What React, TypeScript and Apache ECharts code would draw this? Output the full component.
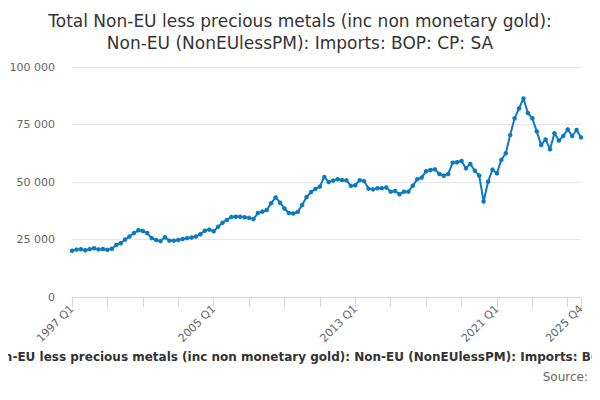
import React, { useEffect, useRef } from 'react';
import * as echarts from 'echarts';

const FIRST_YEAR = 1997;
const LAST_YEAR = 2025;

// quarterly imports, £ million, 1997 Q1 .. 2025 Q4
const imports = [
  20100, 20600, 20800, 20300, 20800, 21200, 20700, 20900,
  20500, 21000, 22600, 23400, 25000, 26300, 27800, 29000,
  28700, 27800, 25600, 24800, 24300, 26000, 24500, 24500,
  24800, 25200, 25600, 25900, 26300, 27300, 28800, 29300,
  28600, 30500, 32300, 33500, 34800, 34900, 34900, 34700,
  34400, 33900, 36500, 37100, 37800, 40800, 43300, 41000,
  38500, 36500, 36300, 37000, 40000, 43500, 45600, 47000,
  48000, 52200, 50000, 50600, 51200, 50900, 50700, 48300,
  48600, 50800, 50400, 47100, 46800, 47300, 47300, 47600,
  45800, 46100, 44700, 45800, 45800, 48400, 51200, 51900,
  54700, 55200, 55500, 53500, 52700, 53500, 58400, 58600,
  59100, 56000, 57800, 54900, 52800, 41500, 50100, 55400,
  53800, 59600, 62500, 70400, 77700, 82000, 86300, 80000,
  77700, 72000, 66100, 68500, 64200, 71200, 68000, 70000,
  72900, 70000, 72600, 69400,
];

const quarters: string[] = [];
for (let y = FIRST_YEAR; y <= LAST_YEAR; y++) {
  for (let q = 1; q <= 4; q++) quarters.push(`${y} Q${q}`);
}

const titleText = 'Total Non-EU less precious metals (inc non monetary gold):\nNon-EU (NonEUlessPM): Imports: BOP: CP: SA';
const footText = 'Total Non-EU less precious metals (inc non monetary gold): Non-EU (NonEUlessPM): Imports: BOP: CP: SA';

const FONT = '"DejaVu Sans", Verdana, sans-serif';

const fmt = (v: number) => String(v).replace(/\B(?=(\d{3})+(?!\d))/g, ' ');

const App = () => {
  const chartRef = useRef<HTMLDivElement>(null);

  useEffect(() => {
    const chart = echarts.init(chartRef.current, undefined, { renderer: 'svg' });
    const last = quarters.length - 1;

    chart.setOption({
      animation: false,
      textStyle: { fontFamily: FONT },
      title: {
        text: titleText,
        left: 'center',
        top: 5,
        textStyle: { fontSize: 17, fontWeight: 'normal', color: '#333333', lineHeight: 22, fontFamily: FONT },
      },
      grid: { left: 72, right: 19, top: 67, bottom: 103 },
      xAxis: {
        type: 'category',
        data: quarters,
        boundaryGap: false,
        axisLine: { lineStyle: { color: '#ccd6eb' } },
        axisTick: {
          length: 10,
          lineStyle: { color: '#ccd6eb' },
          interval: (i: number) => i % 8 === 0 || i === last,
        },
        axisLabel: {
          rotate: 45,
          color: '#666666',
          fontSize: 11,
          margin: 10,
          interval: (i: number) => i % 32 === 0 || i === last,
        },
        splitLine: { show: false },
      },
      yAxis: {
        type: 'value',
        min: 0,
        max: 100000,
        interval: 25000,
        axisLine: { show: false },
        axisTick: { show: false },
        axisLabel: { color: '#666666', fontSize: 11, margin: 17, formatter: fmt },
        splitLine: { lineStyle: { color: '#e6e6e6' } },
      },
      series: [
        {
          type: 'line',
          data: imports,
          color: '#0b7bc1',
          lineStyle: { width: 2 },
          symbol: 'circle',
          symbolSize: 4.5,
          showSymbol: true,
          showAllSymbol: true,
        },
      ],
      graphic: [
        {
          type: 'text',
          x: 306,
          y: 357,
          style: {
            text: footText,
            textAlign: 'center',
            textVerticalAlign: 'middle',
            fontSize: 12,
            fontWeight: 'bold',
            fontFamily: FONT,
            fill: '#333333',
          },
        },
        {
          type: 'text',
          x: 588,
          y: 377,
          style: {
            text: 'Source:',
            textAlign: 'right',
            textVerticalAlign: 'middle',
            fontSize: 12,
            fontFamily: FONT,
            fill: '#666666',
          },
        },
      ],
    });

    return () => {
      chart.dispose();
    };
  }, []);

  return <div ref={chartRef} style={{ width: 600, height: 400, margin: -8 }} />;
};

export default App;
